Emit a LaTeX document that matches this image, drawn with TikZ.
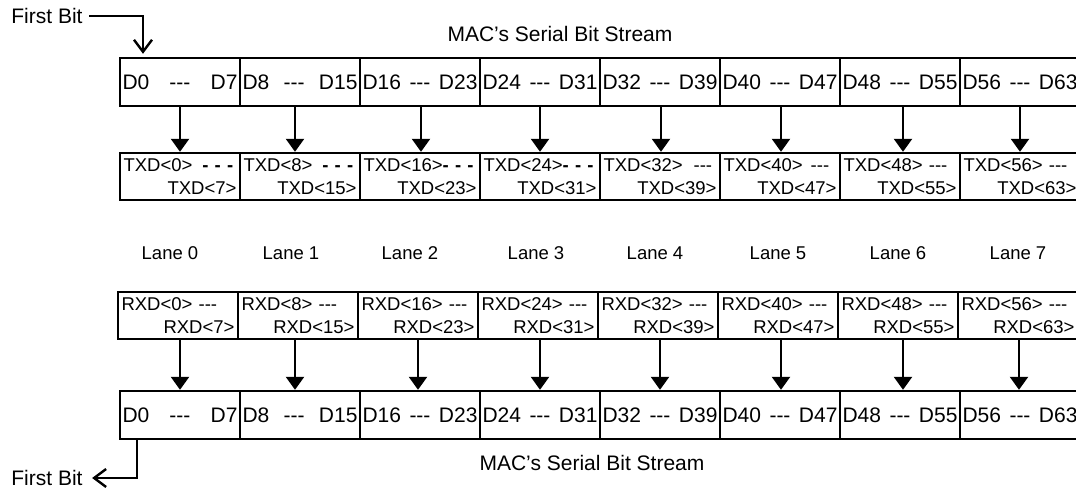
\documentclass[tikz,border=0pt]{standalone}
\usepackage{fontspec}
\setmainfont{Liberation Sans}[Ligatures=TeXOff]
\usetikzlibrary{arrows.meta}

\begin{document}
\begin{tikzpicture}[x=1pt, y=-1pt, node distance=120pt,
  dbox/.style = {draw, line width=2.4pt, minimum height=48pt, text width=115pt, inner xsep=2.5pt, font=\fontsize{21}{25}\selectfont},
  lbox/.style = {draw, line width=2.4pt, minimum height=47pt, text width=113pt, inner xsep=3.5pt, align=left, font=\fontsize{18.5}{23}\selectfont},
  big/.style = {font=\fontsize{21}{25}\selectfont},
  lane/.style = {font=\fontsize{18.5}{22}\selectfont},
  flow/.style = {line width=2.4pt, -{Triangle[width=18pt,length=13pt]}},
  first/.style = {line width=2.4pt, -{Straight Barb[width=18pt,length=12pt]}}]
\useasboundingbox (0,0) rectangle (1076,492);

% MAC side, transmit
\node[big] (mac1) at (560,34) {MAC’s Serial Bit Stream};
\node[dbox] (m0) at (180,82) {D0\hfill---\hfill D7};
\node[dbox] (m1) [right of = m0] {D8\hfill---\hfill D15};
\node[dbox] (m2) [right of = m1] {D16\hfill---\hfill D23};
\node[dbox] (m3) [right of = m2] {D24\hfill---\hfill D31};
\node[dbox] (m4) [right of = m3] {D32\hfill---\hfill D39};
\node[dbox] (m5) [right of = m4] {D40\hfill---\hfill D47};
\node[dbox] (m6) [right of = m5] {D48\hfill---\hfill D55};
\node[dbox] (m7) [right of = m6] {D56\hfill---\hfill D63};

\node[lbox] (t0) at (180,176.5) {TXD<0>\hspace{10pt}\textbf{- - -}\\\hspace*{\fill}TXD<7>};
\node[lbox] (t1) [right of = t0] {TXD<8>\hspace{10pt}\textbf{- - -}\\\hspace*{\fill}TXD<15>};
\node[lbox] (t2) [right of = t1] {TXD<16>\textbf{- - -}\\\hspace*{\fill}TXD<23>};
\node[lbox] (t3) [right of = t2] {TXD<24>\textbf{- - -}\\\hspace*{\fill}TXD<31>};
\node[lbox] (t4) [right of = t3] {TXD<32>\hspace{11pt}---\\\hspace*{\fill}TXD<39>};
\node[lbox] (t5) [right of = t4] {TXD<40>\hspace{8pt}---\\\hspace*{\fill}TXD<47>};
\node[lbox] (t6) [right of = t5] {TXD<48> ---\\\hspace*{\fill}TXD<55>};
\node[lbox] (t7) [right of = t6] {TXD<56> ---\\\hspace*{\fill}TXD<63>};

\foreach \i/\dx in {0/0,1/-5,2/1,3/0,4/1,5/1,6/3,7/0}
  \draw[flow] ([xshift=\dx]m\i.south) -- ([xshift=\dx]t\i.north);

% lanes
\node[lane] (l0) at (170,253) {Lane 0};
\node[lane] (l1) at (291,253) {Lane 1};
\node[lane] (l2) at (410,253) {Lane 2};
\node[lane] (l3) at (536,253) {Lane 3};
\node[lane] (l4) at (655,253) {Lane 4};
\node[lane] (l5) at (778,253) {Lane 5};
\node[lane] (l6) at (898,253) {Lane 6};
\node[lane] (l7) at (1018,253) {Lane 7};

% receive, MAC side
\node[lbox] (r0) at (178,315.5) {RXD<0> ---\\\hspace*{\fill}RXD<7>};
\node[lbox] (r1) [right of = r0] {RXD<8> ---\\\hspace*{\fill}RXD<15>};
\node[lbox] (r2) [right of = r1] {RXD<16> ---\\\hspace*{\fill}RXD<23>};
\node[lbox] (r3) [right of = r2] {RXD<24> ---\\\hspace*{\fill}RXD<31>};
\node[lbox] (r4) [right of = r3] {RXD<32> ---\\\hspace*{\fill}RXD<39>};
\node[lbox] (r5) [right of = r4] {RXD<40> ---\\\hspace*{\fill}RXD<47>};
\node[lbox] (r6) [right of = r5] {RXD<48> ---\\\hspace*{\fill}RXD<55>};
\node[lbox] (r7) [right of = r6] {RXD<56> ---\\\hspace*{\fill}RXD<63>};

\node[dbox] (b0) at (180,415) {D0\hfill---\hfill D7};
\node[dbox] (b1) [right of = b0] {D8\hfill---\hfill D15};
\node[dbox] (b2) [right of = b1] {D16\hfill---\hfill D23};
\node[dbox] (b3) [right of = b2] {D24\hfill---\hfill D31};
\node[dbox] (b4) [right of = b3] {D32\hfill---\hfill D39};
\node[dbox] (b5) [right of = b4] {D40\hfill---\hfill D47};
\node[dbox] (b6) [right of = b5] {D48\hfill---\hfill D55};
\node[dbox] (b7) [right of = b6] {D56\hfill---\hfill D63};
\node[big] (mac2) at (592,463) {MAC’s Serial Bit Stream};

\foreach \i/\dx in {0/0,1/-5,2/-2,3/0,4/0,5/1,6/3,7/-1}
  \draw[flow] ([xshift=\dx+2]r\i.south) -- ([xshift=\dx]b\i.north);

% first bit markers
\node[big] (fb1) at (47,16) {First Bit};
\draw[first] ([xshift=3pt]fb1.east) -| ([xshift=-37pt,yshift=3pt]m0.north);
\node[big] (fb2) at (47,478) {First Bit};
\draw[first] ([xshift=-43pt]b0.south) |- ([xshift=6pt]fb2.east);
\end{tikzpicture}
\end{document}
